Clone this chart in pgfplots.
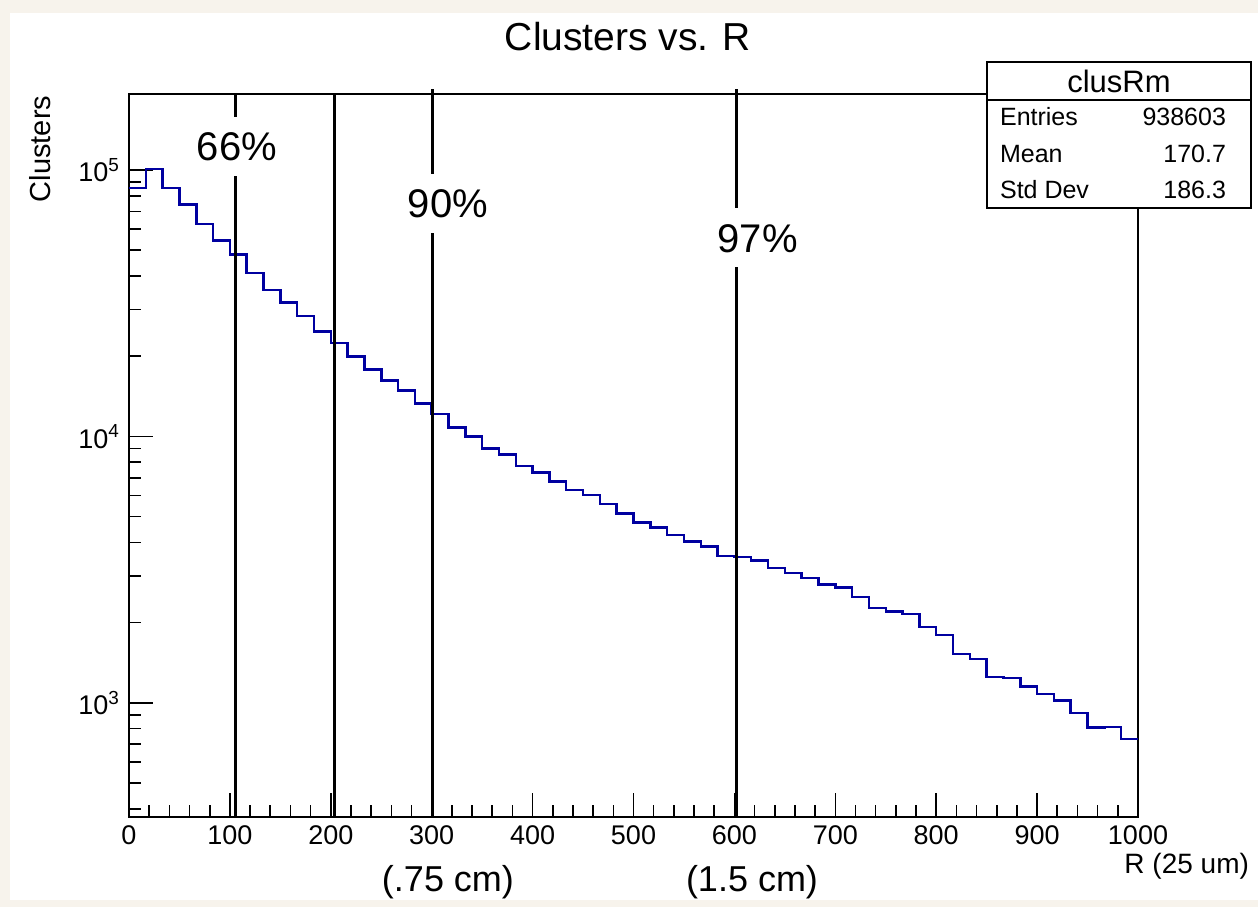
\documentclass[border=0pt]{standalone}
\usepackage{pgfplots}
\pgfplotsset{compat=1.18}
\usepackage{fontspec}
\setmainfont{Liberation Sans}
\definecolor{histblue}{RGB}{0,0,160}
\definecolor{paper}{RGB}{247,243,236}

\pgfplotstableread{
x y
0 85800
16.67 100900
33.33 85600
50 74100
66.67 62700
83.33 54300
100 48300
116.67 41070
133.33 35450
150 31880
166.67 28330
183.33 24810
200 22430
216.67 19930
233.33 17870
250 16200
266.67 14860
283.33 13320
300 12150
316.67 10790
333.33 9980
350 9030
366.67 8545
383.33 7750
400 7315
416.67 6768
433.33 6299
450 6034
466.67 5580
483.33 5133
500 4764
516.67 4563
533.33 4270
550 4030
566.67 3859
583.33 3561
600 3530
616.67 3420
633.33 3202
650 3075
666.67 2944
683.33 2779
700 2708
716.67 2493
733.33 2266
750 2201
766.67 2158
783.33 1924
800 1800
816.67 1523
833.33 1459
850 1249
866.67 1241
883.33 1151
900 1078
916.67 1020
933.33 915
950 808
966.67 813
983.33 733
1000 733
}\histdata

\begin{document}
\begin{tikzpicture}[x=0.5pt,y=0.5pt]
\fill[paper] (0,0) rectangle (1258,907);
\fill[white] (10,7) rectangle (1258,894);
\begin{axis}[
  at={(64.5pt,45pt)}, anchor=south west,
  scale only axis, width=504.5pt, height=361.5pt,
  xmin=0, xmax=1000, ymode=log, ymin=373, ymax=193000,
  axis line style={line width=1pt},
  xtick={0,100,...,1000},
  xticklabels={0,100,200,300,400,500,600,700,800,900,1000},
  minor x tick num=4,
  ytick={1000,10000,100000},
  yticklabels={10\textsuperscript{3},10\textsuperscript{4},10\textsuperscript{5}},
  minor ytick={400,500,600,700,800,900,2000,3000,4000,5000,6000,7000,8000,9000,20000,30000,40000,50000,60000,70000,80000,90000},
  xtick pos=bottom, ytick pos=left, tick align=inside,
  major tick length=12pt, minor tick length=6pt,
  tick style={black, line width=0.8pt},
  ticklabel style={font=\fontsize{13.5}{15}\selectfont},
  yticklabel style={xshift=-1pt},
  xticklabel style={yshift=-1pt},
  clip=false,
]
\addplot[const plot, histblue, line width=1.25pt] table[x=x,y=y] {\histdata};
\addplot[black, line width=1.5pt] coordinates {(105.5,373) (105.5,193000)};
\addplot[black, line width=1.5pt] coordinates {(204,373) (204,193000)};
\addplot[black, line width=1.5pt] coordinates {(301,373) (301,201000)};
\addplot[black, line width=1.5pt] coordinates {(602.5,373) (602.5,201000)};
\node[fill=white, inner xsep=2pt, minimum height=29.5pt, text height=14.3pt, text depth=0pt, font=\fontsize{20}{22}\selectfont] at (rel axis cs:0.107,0.928) {66\%};
\node[fill=white, inner xsep=2pt, minimum height=29.5pt, text height=14.3pt, text depth=0pt, font=\fontsize{20}{22}\selectfont] at (rel axis cs:0.316,0.8486) {90\%};
\node[fill=white, inner xsep=2pt, minimum height=29.5pt, text height=14.3pt, text depth=0pt, font=\fontsize{20}{22}\selectfont] at (rel axis cs:0.623,0.801) {97\%};
\end{axis}
% title and labels
\node[font=\fontsize{19.5}{21}\selectfont] at (628,870) {Clusters vs. R};
\node[rotate=90, font=\fontsize{14.5}{16}\selectfont] at (40,758) {Clusters};
\node[anchor=east, font=\fontsize{14}{16}\selectfont] at (1256,41) {R (25 um)};
\node[font=\fontsize{18}{20}\selectfont] at (448,25) {(.75 cm)};
\node[font=\fontsize{18}{20}\selectfont] at (752,25) {(1.5 cm)};
% stats box
\filldraw[fill=white, draw=black, line width=1pt] (987,845) rectangle (1251,699);
\draw[line width=1pt] (987,807) -- (1251,807);
\node[font=\fontsize{15.5}{17}\selectfont] at (1119,826) {clusRm};
\node[anchor=west, font=\fontsize{12.5}{14}\selectfont] at (993,790) {Entries};
\node[anchor=east, font=\fontsize{12.5}{14}\selectfont] at (1233,790) {938603};
\node[anchor=west, font=\fontsize{12.5}{14}\selectfont] at (993,753) {Mean};
\node[anchor=east, font=\fontsize{12.5}{14}\selectfont] at (1233,753) {170.7};
\node[anchor=west, font=\fontsize{12.5}{14}\selectfont] at (993,717) {Std Dev};
\node[anchor=east, font=\fontsize{12.5}{14}\selectfont] at (1233,717) {186.3};
\end{tikzpicture}
\end{document}
